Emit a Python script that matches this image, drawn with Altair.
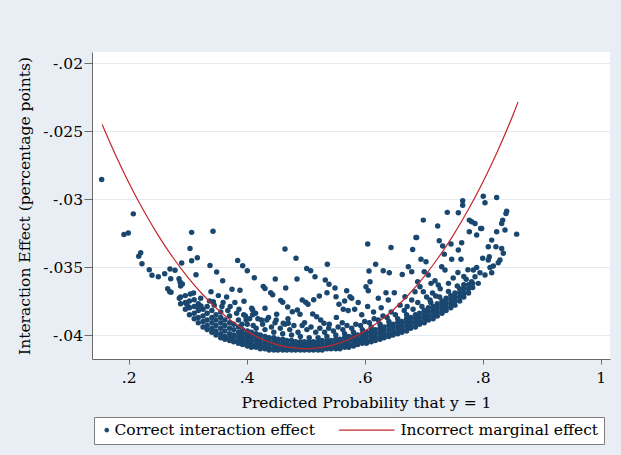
import altair as alt
import pandas as pd

SERIES = ["Correct interaction effect", "Incorrect marginal effect"]

# Incorrect marginal effect (red curve)
line_x = [0.155, 0.175, 0.2, 0.225, 0.25, 0.275, 0.3, 0.325, 0.35, 0.375, 0.4,
          0.425, 0.45, 0.475, 0.5, 0.525, 0.55, 0.575, 0.6, 0.625, 0.65, 0.675,
          0.7, 0.725, 0.75, 0.775, 0.8, 0.825, 0.85, 0.86]
line_y = [-0.02452, -0.02650, -0.02878, -0.03083, -0.03267, -0.03430, -0.03574,
          -0.03700, -0.03808, -0.03898, -0.03971, -0.04029, -0.04069, -0.04093,
          -0.04101, -0.04093, -0.04069, -0.04029, -0.03971, -0.03898, -0.03808,
          -0.03700, -0.03574, -0.03430, -0.03267, -0.03083, -0.02878, -0.02650,
          -0.02397, -0.02287]

# Correct interaction effect: scattered points above the dense band
scatter_x = [
    0.1542, 0.2078, 0.192, 0.1993, 0.2203, 0.217, 0.2225, 0.2349, 0.2395, 0.2502,
    0.261, 0.27, 0.2785, 0.2898, 0.2712, 0.2853, 0.287, 0.288, 0.2909, 0.2661,
    0.2695, 0.2717, 0.3067, 0.3429, 0.3039, 0.3067, 0.3163, 0.3378, 0.3141, 0.3045,
    0.2858, 0.2983, 0.301, 0.318, 0.3225, 0.3395, 0.3491, 0.3593, 0.3434,
    0.4649, 0.4836, 0.3847, 0.3932, 0.401, 0.4129, 0.5017, 0.5085, 0.5367, 0.5158,
    0.4853, 0.4485, 0.4281, 0.431, 0.3751, 0.3886, 0.4661, 0.4407, 0.4441, 0.5332,
    0.5395, 0.5497, 0.5361, 0.5231, 0.5136, 0.4942, 0.5, 0.5039, 0.4576, 0.461,
    0.3954, 0.4695, 0.4773, 0.4858, 0.4903, 0.5514, 0.5695, 0.5564, 0.5637, 0.431,
    0.4085, 0.4102, 0.4508, 0.5119, 0.5186, 0.5254, 0.531, 0.4705, 0.462,
    0.6051, 0.6446, 0.6869, 0.6994, 0.7237, 0.7264, 0.7322, 0.7349, 0.7463, 0.7587,
    0.7644, 0.6813, 0.6954, 0.7039, 0.701, 0.7475, 0.7632, 0.7305, 0.7361, 0.674,
    0.6797, 0.6186, 0.6315, 0.6417, 0.6073, 0.609, 0.6637, 0.7078, 0.7124, 0.7192,
    0.7248, 0.6898, 0.6937, 0.6022, 0.6061, 0.5751, 0.6361, 0.6502, 0.6231, 0.64,
    0.6683, 0.6797, 0.6853, 0.6994, 0.7107, 0.7203,
    0.801, 0.8039, 0.8237, 0.8407, 0.8395, 0.8339, 0.8322, 0.8576, 0.7813, 0.787,
    0.7983, 0.7898, 0.8237, 0.8378, 0.8153, 0.8095, 0.8225, 0.8322, 0.835, 0.8,
    0.8095, 0.8112, 0.8293, 0.8264, 0.818, 0.8124, 0.7898, 0.7841, 0.7954, 0.8039,
    0.8153, 0.787, 0.7925, 0.7813,
    0.7661, 0.7661, 0.74, 0.7587, 0.7774, 0.7966, 0.7774, 0.6881,
    0.566, 0.578, 0.589, 0.572, 0.583, 0.595, 0.605, 0.615, 0.628, 0.645, 0.66,
    0.672, 0.69, 0.705, 0.715, 0.728, 0.742, 0.75, 0.758, 0.768, 0.775,
    0.352, 0.36, 0.366, 0.372, 0.38, 0.387, 0.395, 0.405, 0.415, 0.425, 0.437,
    0.448, 0.47, 0.48, 0.498, 0.54, 0.552, 0.562,
]
scatter_y = [
    -0.02856, -0.03109, -0.0326, -0.0325, -0.03395, -0.0342, -0.03476, -0.0352, -0.0356, -0.03571,
    -0.03549, -0.03515, -0.03524, -0.03471, -0.03586, -0.03586, -0.0361, -0.0364, -0.03625, -0.03659,
    -0.03681, -0.03686, -0.03245, -0.03236, -0.03363, -0.03454, -0.03432, -0.03488, -0.03557, -0.03698,
    -0.0373, -0.03772, -0.03791, -0.03791, -0.03786, -0.03681, -0.03537, -0.036, -0.03755,
    -0.03368, -0.03436, -0.03451, -0.0349, -0.03527, -0.03579, -0.0351, -0.03527, -0.0348, -0.03571,
    -0.03588, -0.03588, -0.03642, -0.03657, -0.03664, -0.03671, -0.03654, -0.03689, -0.03703, -0.03595,
    -0.03627, -0.03654, -0.03689, -0.03713, -0.0374, -0.03742, -0.03759, -0.03774, -0.03745, -0.03759,
    -0.03752, -0.03794, -0.03828, -0.03816, -0.03847, -0.03718, -0.03674, -0.03774, -0.03811, -0.03803,
    -0.03803, -0.03816, -0.03847, -0.03845, -0.03865, -0.03889, -0.03913, -0.03913, -0.03913,
    -0.03331, -0.03356, -0.03282, -0.03155, -0.03199, -0.03307, -0.03346, -0.03405, -0.03331, -0.03375,
    -0.03322, -0.03371, -0.03443, -0.03461, -0.03534, -0.03443, -0.03443, -0.03498, -0.03522, -0.03498,
    -0.03534, -0.0348, -0.03527, -0.03542, -0.03529, -0.03608, -0.03554, -0.03559, -0.0362, -0.036,
    -0.03632, -0.03608, -0.03645, -0.03645, -0.03674, -0.03718, -0.03689, -0.03689, -0.0373, -0.03742,
    -0.03718, -0.03742, -0.03681, -0.03681, -0.03742, -0.03713,
    -0.02979, -0.03028, -0.02988, -0.03089, -0.03106, -0.03155, -0.03179, -0.03258, -0.03167, -0.03179,
    -0.03216, -0.03265, -0.03241, -0.03228, -0.03302, -0.03351, -0.03351, -0.03363, -0.03399, -0.03436,
    -0.03449, -0.03424, -0.03449, -0.03468, -0.03493, -0.03503, -0.03503, -0.03522, -0.03542, -0.03559,
    -0.03542, -0.03571, -0.0362, -0.03608,
    -0.03013, -0.03045, -0.03098, -0.03101, -0.03155, -0.03216, -0.03241, -0.03282,
    -0.0375, -0.0373, -0.0376, -0.0382, -0.0381, -0.0385, -0.0379, -0.0383, -0.038, -0.0383, -0.0378,
    -0.0379, -0.0376, -0.0372, -0.0369, -0.0366, -0.0362, -0.0358, -0.0354, -0.0357, -0.0352,
    -0.0371, -0.0376, -0.0372, -0.0379, -0.0376, -0.0381, -0.0385, -0.0388, -0.0384, -0.0389, -0.0387,
    -0.0391, -0.0388, -0.0393, -0.0391, -0.0392, -0.0387, -0.0391,
]

# Correct interaction effect: points filling the upper part of the dense band
fill_x = [0.392, 0.399, 0.411, 0.419, 0.427, 0.434, 0.442, 0.45, 0.457, 0.465,
          0.473, 0.487, 0.494, 0.502, 0.509, 0.517, 0.524, 0.532, 0.539, 0.547,
          0.555, 0.563, 0.57, 0.578, 0.585, 0.593, 0.6, 0.608, 0.616, 0.623,
          0.631, 0.638, 0.652, 0.667, 0.682, 0.697, 0.712, 0.727, 0.742, 0.757,
          0.772, 0.31, 0.322, 0.337, 0.345, 0.358, 0.368, 0.383, 0.398, 0.41]
fill_y = [-0.0392, -0.0389, -0.0393, -0.0388, -0.0392, -0.0389, -0.0394, -0.0389, -0.0395, -0.0392,
          -0.0396, -0.0398, -0.0393, -0.0396, -0.0394, -0.0398, -0.0395, -0.0398, -0.0395, -0.0397,
          -0.0394, -0.0396, -0.0393, -0.0395, -0.0392, -0.0393, -0.0390, -0.0391, -0.0388, -0.0389,
          -0.0386, -0.0387, -0.0385, -0.0382, -0.0381, -0.0379, -0.0376, -0.0372, -0.0368, -0.0364,
          -0.0359, -0.0369, -0.0373, -0.0375, -0.0378, -0.0379, -0.0382, -0.0384, -0.0386, -0.0385]

# Correct interaction effect: the dense band near the bottom (x -> y values)
band = {
    0.288: [-0.0372, -0.0377],
    0.296: [-0.0376, -0.0381, -0.0371],
    0.303: [-0.0380, -0.0385, -0.0375],
    0.311: [-0.0384, -0.0388, -0.0379, -0.0374],
    0.318: [-0.0387, -0.0391, -0.0382, -0.0377],
    0.326: [-0.0390, -0.0394, -0.0386, -0.0381],
    0.333: [-0.0393, -0.0396, -0.0389, -0.0384, -0.0379],
    0.341: [-0.0395, -0.0398, -0.0391, -0.0387, -0.0382],
    0.348: [-0.0397, -0.0400, -0.0393, -0.0389, -0.0385],
    0.356: [-0.0399, -0.0402, -0.0395, -0.0391, -0.0387, -0.0383],
    0.363: [-0.0401, -0.0403, -0.0397, -0.0393, -0.0389],
    0.371: [-0.0402, -0.0404, -0.0399, -0.0395, -0.0391, -0.0386],
    0.378: [-0.0403, -0.0405, -0.0400, -0.0396, -0.0392],
    0.386: [-0.0404, -0.0406, -0.0401, -0.0398, -0.0394, -0.0389],
    0.393: [-0.0405, -0.0407, -0.0402, -0.0399, -0.0396],
    0.401: [-0.0406, -0.0408, -0.0403, -0.0400, -0.0397, -0.0392],
    0.408: [-0.0407, -0.0409, -0.0404, -0.0401, -0.0398],
    0.416: [-0.0408, -0.0409, -0.0405, -0.0402, -0.0399, -0.0395],
    0.423: [-0.0408, -0.0410, -0.0406, -0.0403, -0.0400],
    0.431: [-0.0409, -0.0410, -0.0406, -0.0404, -0.0401, -0.0396],
    0.438: [-0.0409, -0.0411, -0.0407, -0.0404, -0.0402],
    0.446: [-0.0410, -0.0411, -0.0407, -0.0405, -0.0402, -0.0398],
    0.453: [-0.0410, -0.0411, -0.0408, -0.0405, -0.0403],
    0.461: [-0.0410, -0.0411, -0.0408, -0.0406, -0.0403, -0.0399],
    0.468: [-0.0410, -0.0411, -0.0408, -0.0406, -0.0404],
    0.476: [-0.0411, -0.0409, -0.0407, -0.0404, -0.0400],
    0.483: [-0.0411, -0.0409, -0.0407, -0.0405],
    0.491: [-0.0411, -0.0409, -0.0407, -0.0405, -0.0401],
    0.498: [-0.0411, -0.0409, -0.0407, -0.0405],
    0.506: [-0.0411, -0.0409, -0.0407, -0.0405, -0.0402],
    0.513: [-0.0411, -0.0409, -0.0407, -0.0405],
    0.521: [-0.0411, -0.0409, -0.0407, -0.0405, -0.0402],
    0.528: [-0.0411, -0.0409, -0.0407, -0.0404],
    0.536: [-0.0410, -0.0408, -0.0406, -0.0404, -0.0401],
    0.543: [-0.0410, -0.0408, -0.0406, -0.0404],
    0.551: [-0.0410, -0.0408, -0.0406, -0.0403, -0.0400],
    0.558: [-0.0410, -0.0408, -0.0405, -0.0403],
    0.566: [-0.0409, -0.0407, -0.0405, -0.0402, -0.0399],
    0.573: [-0.0409, -0.0407, -0.0404, -0.0401],
    0.581: [-0.0408, -0.0406, -0.0404, -0.0401, -0.0398],
    0.588: [-0.0407, -0.0405, -0.0403, -0.0400],
    0.596: [-0.0406, -0.0404, -0.0402, -0.0399, -0.0396],
    0.603: [-0.0406, -0.0404, -0.0401, -0.0398],
    0.611: [-0.0405, -0.0403, -0.0400, -0.0397, -0.0394],
    0.618: [-0.0404, -0.0402, -0.0399, -0.0396],
    0.626: [-0.0403, -0.0401, -0.0398, -0.0395, -0.0392],
    0.633: [-0.0402, -0.0400, -0.0397, -0.0394],
    0.641: [-0.0401, -0.0399, -0.0396, -0.0393, -0.0390],
    0.648: [-0.0400, -0.0398, -0.0395, -0.0392],
    0.656: [-0.0399, -0.0397, -0.0394, -0.0391, -0.0388],
    0.663: [-0.0398, -0.0396, -0.0393, -0.0390],
    0.671: [-0.0397, -0.0394, -0.0391, -0.0388, -0.0385],
    0.678: [-0.0395, -0.0393, -0.0390, -0.0387],
    0.686: [-0.0394, -0.0391, -0.0388, -0.0385],
    0.693: [-0.0392, -0.0390, -0.0387, -0.0384],
    0.701: [-0.0391, -0.0388, -0.0385, -0.0382],
    0.708: [-0.0389, -0.0386, -0.0383, -0.0380],
    0.716: [-0.0388, -0.0385, -0.0382, -0.0379],
    0.723: [-0.0386, -0.0383, -0.0380, -0.0377],
    0.731: [-0.0384, -0.0381, -0.0378, -0.0375],
    0.738: [-0.0382, -0.0379, -0.0376, -0.0373],
    0.746: [-0.0380, -0.0377, -0.0374, -0.0371],
    0.753: [-0.0378, -0.0375, -0.0372, -0.0369],
    0.761: [-0.0375, -0.0372, -0.0369, -0.0366],
    0.768: [-0.0372, -0.0369, -0.0366, -0.0363],
    0.776: [-0.0369, -0.0366, -0.0363],
    0.783: [-0.0365, -0.0362],
}

X_TICKS = [0.2, 0.4, 0.6, 0.8, 1]
Y_TICKS = [-0.04, -0.035, -0.03, -0.025, -0.02]
X_DOMAIN = [0.1378, 1.0158]
Y_DOMAIN = [-0.04176, -0.01919]

bx, by = [], []
for k, vals in band.items():
    for v in vals:
        bx.append(k)
        by.append(v)
pts = pd.DataFrame({"x": scatter_x + fill_x + bx, "y": scatter_y + fill_y + by})
pts["series"] = SERIES[0]
ln = pd.DataFrame({"x": line_x, "y": line_y, "series": SERIES[1]})

FONT = "DejaVu Serif"
FS = 15.5
NAVY = "#1a476f"
RED = "#c1272d"

legend = alt.Legend(
    title=None, orient="none", legendX=2, legendY=365, direction="horizontal",
    columns=2, fillColor="white", strokeColor="#7f7f7f", padding=5,
    labelFont=FONT, labelFontSize=FS, labelColor="black", labelLimit=400,
    symbolSize=12, symbolStrokeWidth=1.2, columnPadding=21, labelOffset=0,
)
color = alt.Color("series:N", scale=alt.Scale(domain=SERIES, range=[NAVY, RED]), legend=legend)
shape = alt.Shape("series:N", scale=alt.Scale(domain=SERIES, range=["circle", "M-31,0H1"]), legend=legend)

xenc = alt.X("x:Q", scale=alt.Scale(domain=X_DOMAIN, nice=False, zero=False),
             axis=alt.Axis(values=X_TICKS, grid=False, title="Predicted Probability that y = 1",
                           labelExpr="replace(toString(datum.value), '0.', '.')",
                           tickSize=5, labelPadding=6, titleX=274, titleY=43,
                           titleBaseline="middle"))
yenc = alt.Y("y:Q", scale=alt.Scale(domain=Y_DOMAIN, nice=False, zero=False),
             axis=alt.Axis(values=Y_TICKS, grid=True, title="Interaction Effect (percentage points)",
                           labelExpr="replace(toString(datum.value), '0.', '.')",
                           tickSize=8, labelPadding=1.5, titleX=-68, titleY=153.5,
                           titleBaseline="middle"))

points = alt.Chart(pts).mark_point(filled=True, size=30, opacity=1).encode(
    x=xenc, y=yenc, color=color, shape=shape)
curve = alt.Chart(ln).mark_line(strokeWidth=1.2, interpolate="monotone").encode(
    x="x:Q", y="y:Q", color=color)

chart = alt.layer(points, curve).properties(
    width=518, height=307,
    padding={"left": 92, "top": 52, "right": 11, "bottom": 96},
    autosize=alt.AutoSizeParams(type="none"),
    background="#e8eef4",
).configure_view(fill="white", stroke=None).configure_axis(
    labelFont=FONT, titleFont=FONT, labelFontSize=FS, titleFontSize=FS,
    titleFontWeight="normal", labelColor="black", titleColor="black",
    domainColor="#6b6b6b", tickColor="#6b6b6b", gridColor="#e3eaf1", gridWidth=1.2,
)

chart.save("out.html", embed_options={"renderer": "svg", "actions": False})
